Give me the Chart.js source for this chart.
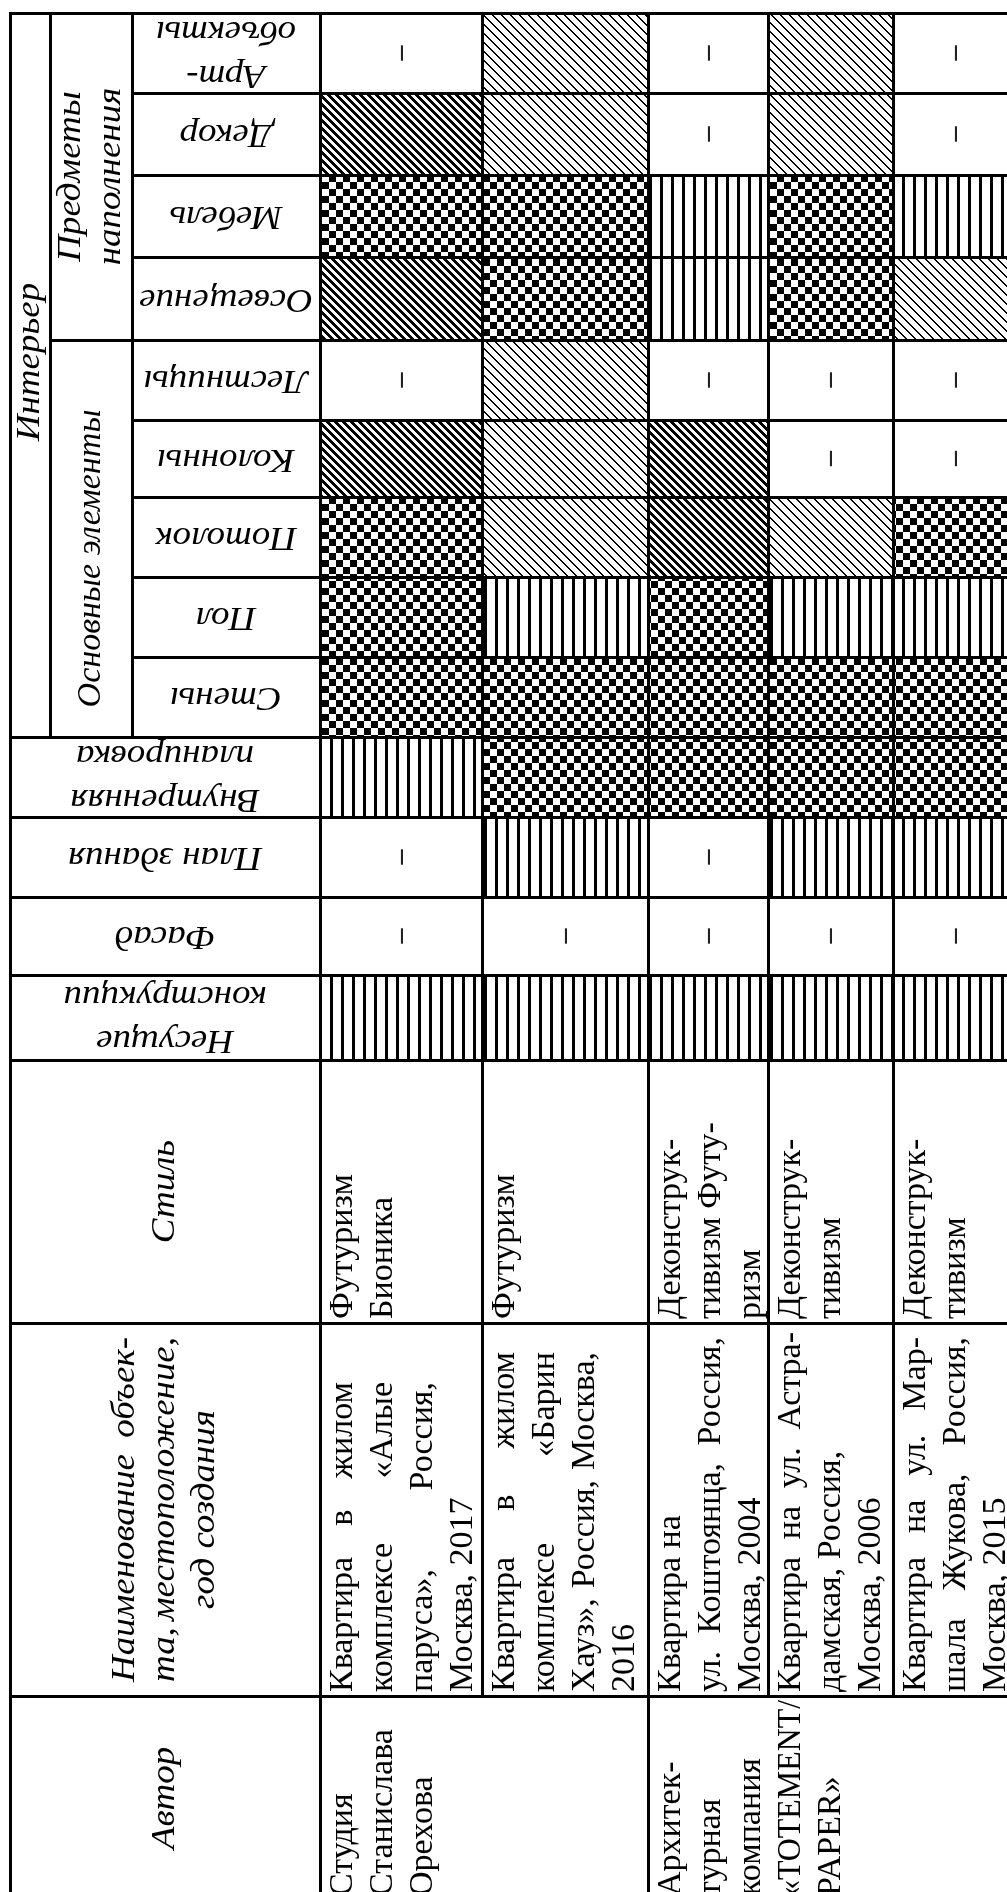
<!DOCTYPE html>
<html lang="ru">
<head>
<meta charset="utf-8">
<title>Интерьер — сравнительная таблица</title>
<script src="https://cdn.jsdelivr.net/npm/chart.js@4.4.1/dist/chart.umd.min.js"></script>
<style>
  html, body { margin: 0; padding: 0; background: #fff; }
  canvas { display: block; }
</style>
</head>
<body>
<canvas id="matrixChart" width="1007" height="1892"></canvas>
<script>
// ---- table data ----
const authorLines = [
    ["Студия", "Станислава", "Орехова"],
    ["Архитек-", "турная", "компания", "«TOTEMENT/", "PAPER»"]
];
const authorProjects = [2, 3]; // how many projects each author has

const nameLines = [
    ["Квартира в жилом", "комплексе «Алые", "паруса», Россия,", "Москва, 2017"],
    ["Квартира в жилом", "комплексе «Барин", "Хауз», Россия, Москва,", "2016"],
    ["Квартира на", "ул. Коштоянца, Россия,", "Москва, 2004"],
    ["Квартира на ул. Астра-", "дамская, Россия,", "Москва, 2006"],
    ["Квартира на ул. Мар-", "шала Жукова, Россия,", "Москва, 2015"]
];
const styleLines = [
    ["Футуризм", "Бионика"],
    ["Футуризм"],
    ["Деконструк-", "тивизм Футу-", "ризм"],
    ["Деконструк-", "тивизм"],
    ["Деконструк-", "тивизм"]
];

// attribute columns of the table, in reading order
const attributes = [
    ["Несущие", "конструкции"], ["Фасад"], ["План здания"], ["Внутренняя", "планировка"],
    ["Стены"], ["Пол"], ["Потолок"], ["Колонны"], ["Лестницы"],
    ["Освещение"], ["Мебель"], ["Декор"], ["Арт-", "объекты"]
];
const interiorGroups = [
    { lines: ["Основные элементы"], first: 4, last: 8 },
    { lines: ["Предметы", "наполнения"], first: 9, last: 12 }
];
const headerTitles = {
    interior: ["Интерьер"],
    style: ["Стиль"],
    name: ["Наименование объек-", "та, местоположение,", "год создания"],
    author: ["Автор"]
};

// V = lines, C = checker, D = dense hatch, L = light hatch, - = none
const marks = [
    ["V", "V", "V", "V", "V"], // Несущие конструкции
    ["-", "-", "-", "-", "-"], // Фасад
    ["-", "V", "-", "V", "V"], // План здания
    ["V", "C", "C", "C", "C"], // Внутренняя планировка
    ["C", "C", "C", "C", "C"], // Стены
    ["C", "V", "C", "V", "V"], // Пол
    ["C", "L", "D", "L", "C"], // Потолок
    ["D", "L", "D", "-", "-"], // Колонны
    ["-", "L", "-", "-", "-"], // Лестницы
    ["D", "C", "V", "C", "L"], // Освещение
    ["C", "C", "V", "C", "V"], // Мебель
    ["D", "L", "-", "L", "-"], // Декор
    ["-", "L", "-", "L", "-"]  // Арт-объекты
];

// ---- layout (page is the landscape table turned on its side) ----
const X_HEAD = [10, 50, 132, 320];
const X_COLS = [320, 482, 648, 768, 893, 1018];
const Y_EDGES = [13, 93, 175, 257, 340, 420, 497, 577, 657, 737, 817, 897, 975, 1060, 1323, 1696, 1900];
const NAME_W = [310, 340, 355, 360, 355]; // justified line length in the name cells

const HEAD_FONT = "italic 33px 'Liberation Serif'";
const HEAD_STRETCH = 1.12;
const HEAD_PITCH = 44;
const UP_PITCH = 40;
const BODY_FONT = "34px 'Liberation Serif'";
const BODY_PITCH = 40;
const BODY_FIRST = 32;
const BODY_PAD = 4;
const DASH_FONT = "bold 30px 'Liberation Serif'";

const rowSpan = a => [Y_EDGES[12 - a], Y_EDGES[13 - a]];
const STYLE_ROW = [Y_EDGES[13], Y_EDGES[14]];
const NAME_ROW = [Y_EDGES[14], Y_EDGES[15]];
const AUTHOR_ROW = [Y_EDGES[15], Y_EDGES[16]];

// small black & white tiles for the hatch fills
function tile(size, isInk) {
    const c = document.createElement("canvas");
    c.width = size;
    c.height = size;
    const g = c.getContext("2d");
    const img = g.createImageData(size, size);
    for (let y = 0; y < size; y++) {
        for (let x = 0; x < size; x++) {
            const k = (y * size + x) * 4;
            const v = isInk(x, y) ? 0 : 255;
            img.data[k] = img.data[k + 1] = img.data[k + 2] = v;
            img.data[k + 3] = 255;
        }
    }
    g.putImageData(img, 0, 0);
    return g.createPattern(c, "repeat");
}

const fills = {
    V: tile(11, (x) => x % 11 < 3),
    C: tile(14, (x, y) => (Math.floor(x / 7) + Math.floor(y / 7)) % 2 === 0),
    D: tile(8, (x, y) => ((x - y) % 8 + 8) % 8 < 4),
    L: tile(9, (x, y) => ((x - y) % 9 + 9) % 9 < 2),
    "-": "#ffffff"
};

function column(x0, x1, cells) {
    return {
        data: cells.map(c => ({ x: (x0 + x1) / 2, y: c.span })),
        cellText: cells.map(c => c.text || null),
        cellFill: cells.map(c => c.fill || "#ffffff"),
        backgroundColor: ctx => ctx.dataset.cellFill[ctx.dataIndex],
        barThickness: x1 - x0,
        grouped: false,
        borderWidth: 0,
        inflateAmount: 0,
        borderSkipped: false
    };
}

const datasets = [];

// one column of cells per project
nameLines.forEach((_, p) => {
    const cells = attributes.map((_, a) => ({
        span: rowSpan(a),
        fill: fills[marks[a][p]],
        text: marks[a][p] === "-" ? { kind: "dash" } : null
    }));
    cells.push({ span: STYLE_ROW, text: { kind: "body", lines: styleLines[p] } });
    cells.push({ span: NAME_ROW, text: { kind: "body", lines: nameLines[p], justify: NAME_W[p] } });
    datasets.push(column(X_COLS[p], X_COLS[p + 1], cells));
});

// merged author cells
let startCol = 0;
authorLines.forEach((lines, k) => {
    const endCol = startCol + authorProjects[k];
    datasets.push(column(X_COLS[startCol], X_COLS[endCol], [
        { span: AUTHOR_ROW, text: { kind: "body", lines: lines } }
    ]));
    startCol = endCol;
});

// header: "Интерьер"
datasets.push(column(X_HEAD[0], X_HEAD[1], [
    { span: [rowSpan(12)[0], rowSpan(4)[1]], text: { kind: "up", lines: headerTitles.interior, shift: -13 } }
]));
// header: interior groups
datasets.push(column(X_HEAD[1], X_HEAD[2], interiorGroups.map((g, i) => ({
    span: [rowSpan(g.last)[0], rowSpan(g.first)[1]],
    text: i === 0 ? { kind: "up", lines: g.lines, shift: 20, fit: 298 } : { kind: "up", lines: g.lines }
}))));
// header: interior items
datasets.push(column(X_HEAD[2], X_HEAD[3], attributes.slice(4).map((lines, i) => ({
    span: rowSpan(i + 4), text: { kind: "flip", lines: lines }
}))));
// header: full-width rows
datasets.push(column(X_HEAD[0], X_HEAD[3], attributes.slice(0, 4).map((lines, a) => ({
    span: rowSpan(a), text: { kind: "flip", lines: lines }
})).concat([
    { span: STYLE_ROW, text: { kind: "up", lines: headerTitles.style } },
    { span: NAME_ROW, text: { kind: "up", lines: headerTitles.name, justify: 345 } },
    { span: AUTHOR_ROW, text: { kind: "up", lines: headerTitles.author } }
])));

// ---- drawing helpers ----
function boxOf(el) {
    const p = el.getProps(["x", "y", "base", "width"], true);
    return {
        left: p.x - p.width / 2,
        right: p.x + p.width / 2,
        top: Math.min(p.y, p.base),
        bottom: Math.max(p.y, p.base)
    };
}

function fillJustified(ctx, s, x, y, width) {
    const words = s.split(" ").filter(Boolean);
    if (words.length < 2) {
        ctx.fillText(s, x, y);
        return;
    }
    const total = words.reduce((t, w) => t + ctx.measureText(w).width, 0);
    const gap = (width - total) / (words.length - 1);
    let cx = x;
    words.forEach(w => {
        ctx.fillText(w, cx, y);
        cx += ctx.measureText(w).width + gap;
    });
}

function drawCellText(ctx, t, b) {
    const h = b.bottom - b.top;
    const cx = (b.left + b.right) / 2;
    const cy = (b.top + b.bottom) / 2;
    const n = t.lines ? t.lines.length : 0;
    ctx.save();
    ctx.fillStyle = "#000";
    if (t.kind === "dash") {
        ctx.translate(cx, cy);
        ctx.rotate(-Math.PI / 2);
        ctx.font = DASH_FONT;
        ctx.textAlign = "center";
        ctx.textBaseline = "middle";
        ctx.fillStyle = "#222";
        ctx.fillText("–", 0, 0);
    } else if (t.kind === "flip") {
        // upside-down header labels
        ctx.translate(cx, cy);
        ctx.rotate(Math.PI);
        ctx.scale(HEAD_STRETCH, 1);
        ctx.font = HEAD_FONT;
        ctx.textAlign = "center";
        ctx.textBaseline = "middle";
        t.lines.forEach((s, k) => ctx.fillText(s, 0, (k - (n - 1) / 2) * HEAD_PITCH));
    } else if (t.kind === "up") {
        // header labels reading bottom to top
        ctx.translate(cx, cy + (t.shift || 0));
        ctx.rotate(-Math.PI / 2);
        ctx.scale(HEAD_STRETCH, 1);
        ctx.font = HEAD_FONT;
        ctx.textBaseline = "middle";
        t.lines.forEach((s, k) => {
            const y = (k - (n - 1) / 2) * UP_PITCH;
            if (t.justify && k < n - 1) {
                const jw = t.justify / HEAD_STRETCH;
                ctx.textAlign = "left";
                fillJustified(ctx, s, -jw / 2, y, jw);
            } else {
                ctx.textAlign = "center";
                if (t.fit) ctx.fillText(s, 0, y, t.fit / HEAD_STRETCH);
                else ctx.fillText(s, 0, y);
            }
        });
    } else {
        // body text, left aligned from the bottom edge of the cell
        ctx.translate(b.left, b.bottom);
        ctx.rotate(-Math.PI / 2);
        ctx.font = BODY_FONT;
        ctx.textAlign = "left";
        ctx.textBaseline = "alphabetic";
        const room = h - BODY_PAD - 4;
        t.lines.forEach((s, k) => {
            const y = BODY_FIRST + k * BODY_PITCH;
            const natural = ctx.measureText(s).width;
            if (t.justify && k < n - 1 && natural > 0.7 * t.justify) {
                fillJustified(ctx, s, BODY_PAD, y, Math.max(t.justify, natural));
            } else {
                ctx.fillText(s, BODY_PAD, y, room);
            }
        });
    }
    ctx.restore();
}

const snap = v => Math.round(v) + 0.5;

const tableCells = {
    id: "tableCells",
    afterDatasetsDraw(chart) {
        const ctx = chart.ctx;
        chart.data.datasets.forEach((ds, di) => {
            chart.getDatasetMeta(di).data.forEach((el, i) => {
                const t = ds.cellText[i];
                if (t) drawCellText(ctx, t, boxOf(el));
            });
        });
        // cell rules
        ctx.save();
        ctx.strokeStyle = "#000";
        ctx.lineWidth = 3;
        chart.data.datasets.forEach((ds, di) => {
            chart.getDatasetMeta(di).data.forEach(el => {
                const b = boxOf(el);
                const l = snap(b.left), t = snap(b.top);
                ctx.strokeRect(l, t, snap(b.right) - l, snap(b.bottom) - t);
            });
        });
        ctx.restore();
    }
};

new Chart(document.getElementById("matrixChart").getContext("2d"), {
    type: "bar",
    data: { datasets: datasets },
    options: {
        responsive: false,
        animation: false,
        events: [],
        layout: { padding: 0 },
        plugins: {
            legend: { display: false },
            tooltip: { enabled: false }
        },
        scales: {
            x: { type: "linear", min: 0, max: 1007, offset: false, display: false },
            y: { type: "linear", min: 0, max: 1892, reverse: true, display: false }
        }
    },
    plugins: [tableCells]
});
</script>
</body>
</html>
